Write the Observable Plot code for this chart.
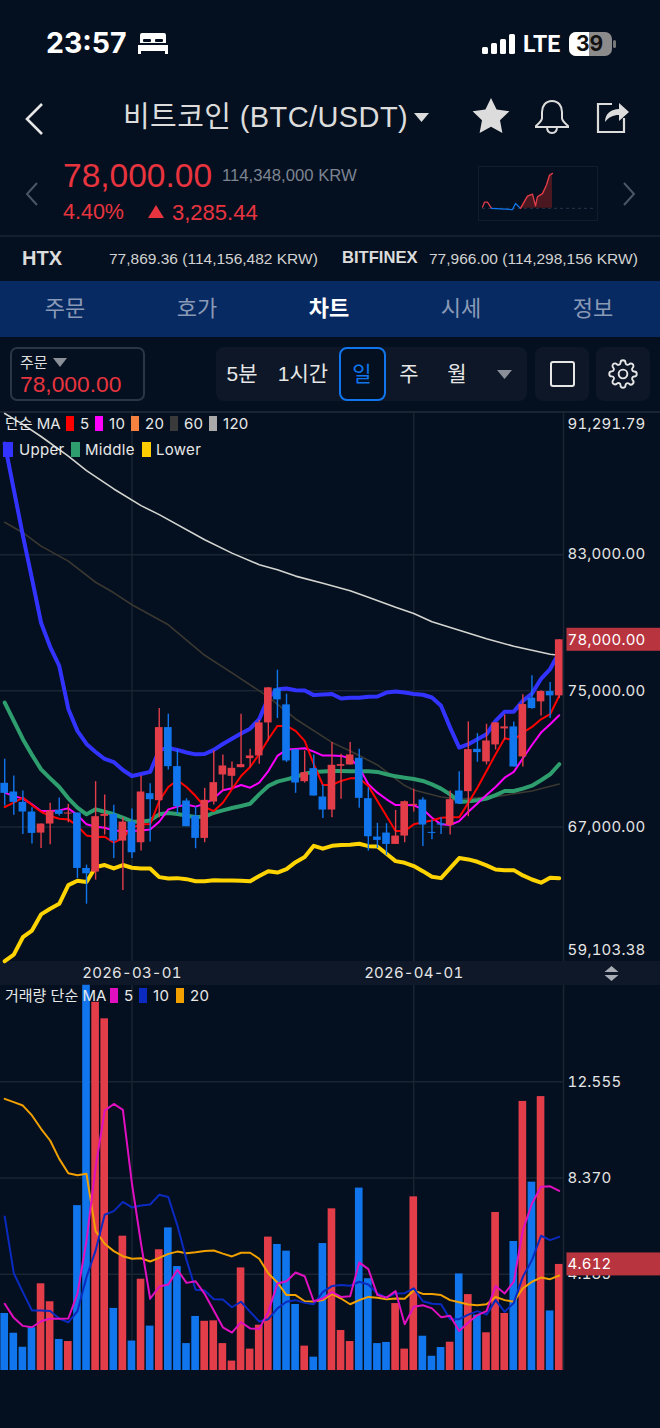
<!DOCTYPE html>
<html lang="ko"><head><meta charset="utf-8">
<script src="https://cdn.jsdelivr.net/npm/d3@7"></script>
<script src="https://cdn.jsdelivr.net/npm/@observablehq/plot@0.6"></script>
<style>
html,body{margin:0;padding:0;background:#04101f;width:660px;height:1428px;overflow:hidden}
#page{position:relative;width:660px;height:1428px;font-family:"Liberation Sans","Noto Sans CJK KR",sans-serif;color:#e6e6e6}
.a{position:absolute;white-space:nowrap;line-height:1}
.c{transform:translateX(-50%)}
.r{font-family:Inter,"Noto Sans CJK KR",sans-serif}
.s{position:absolute}
.lg{position:absolute;white-space:nowrap;line-height:1;font-family:Inter,"Noto Sans CJK KR",sans-serif;font-size:15px;letter-spacing:.3px;color:#e8e8e8}
.plot{position:absolute;left:0}
svg{background:transparent}
</style></head><body><div id="page">

<!-- status bar -->
<div class="a r" style="left:46px;top:29px;font-size:28.500px;font-weight:700;color:#fff">23:57</div>
<svg class="s" style="left:138px;top:33px" width="30" height="21" viewBox="0 0 30 21"><path d="M4 0h22a2 2 0 0 1 2 2v8H2V2a2 2 0 0 1 2-2zM0 12h30v9h-3v-3H3v3H0z" fill="#fff"/><rect x="5" y="6" width="8" height="3" rx="1" fill="#04101f"/><rect x="17" y="6" width="8" height="3" rx="1" fill="#04101f"/></svg>
<svg class="s" style="left:482px;top:34px" width="34" height="20" viewBox="0 0 34 20"><rect x="0" y="13" width="6" height="7" rx="1.5" fill="#fff"/><rect x="9" y="9" width="6" height="11" rx="1.5" fill="#fff"/><rect x="18" y="5" width="6" height="15" rx="1.5" fill="#fff"/><rect x="27" y="0" width="6" height="20" rx="1.5" fill="#fff"/></svg>
<div class="a" style="left:523px;top:33px;font-family:Roboto;font-size:23px;font-weight:700;color:#fff">LTE</div>
<svg class="s" style="left:569px;top:32px" width="47" height="24" viewBox="0 0 47 24"><rect width="43" height="24" rx="7" fill="#8b8b8b"/><path d="M7 0h13v24H7a7 7 0 0 1-7-7V7a7 7 0 0 1 7-7z" fill="#fff"/><rect x="44" y="8" width="3" height="8" rx="1.5" fill="#777"/></svg>
<div class="a r" style="left:576px;top:33px;font-size:21px;font-weight:700;color:#111">39</div>

<!-- title row -->
<svg class="s" style="left:24px;top:102px" width="20" height="34" viewBox="0 0 20 34"><path d="M18 2 3 17l15 15" fill="none" stroke="#e6e6e6" stroke-width="2.600"/></svg>
<div class="a" style="left:123px;top:103px;font-size:29px;letter-spacing:.4px;color:#dcdcdc">비트코인 (BTC/USDT)</div>
<svg class="s" style="left:414px;top:113px" width="15" height="9"><path d="M0 0h15L7.500 9z" fill="#dcdcdc"/></svg>
<svg class="s" style="left:472px;top:98px" width="38" height="36" viewBox="0 0 38 36"><path d="M19 0l5.600 11.600 12.800 1.700-9.400 8.900 2.400 12.700L19 28.700l-11.400 6.200 2.400-12.700L.6 13.300l12.800-1.700z" fill="#dcdcdc"/></svg>
<svg class="s" style="left:534px;top:99px" width="36" height="36" viewBox="0 0 36 36"><path d="M18 2c-6.500 0-10 5-10 11v6c0 3-3 5-6 8v1h32v-1c-3-3-6-5-6-8v-6c0-6-3.500-11-10-11zM13 28c0 4 2 6 5 6s5-2 5-6" fill="none" stroke="#dcdcdc" stroke-width="2"/></svg>
<svg class="s" style="left:596px;top:98px" width="35" height="36" viewBox="0 0 35 36"><path d="M16 6H2v28h26V20" fill="none" stroke="#dcdcdc" stroke-width="2.200"/><path d="M9 24c0-8 6-13 14-13V5l10 9-10 9v-6c-6 0-10 2-14 7z" fill="#dcdcdc"/></svg>

<!-- price row -->
<svg class="s" style="left:25px;top:182px" width="14" height="24" viewBox="0 0 14 24"><path d="M12 1 2 12l10 11" fill="none" stroke="#4a5565" stroke-width="2"/></svg>
<svg class="s" style="left:622px;top:182px" width="14" height="24" viewBox="0 0 14 24"><path d="M2 1l10 11L2 23" fill="none" stroke="#4a5565" stroke-width="2"/></svg>
<div class="a" style="left:63px;top:159px;font-size:33.500px;color:#e8343f">78,000.00</div>
<div class="a" style="left:222px;top:168px;font-size:16.700px;color:#7d8492">114,348,000 KRW</div>
<div class="a" style="left:63px;top:202px;font-size:21.500px;color:#e8343f">4.40%</div>
<svg class="s" style="left:148px;top:205px" width="16" height="13"><path d="M8 0l8 13H0z" fill="#e8343f"/></svg>
<div class="a" style="left:172px;top:202px;font-size:22px;color:#e8343f">3,285.44</div>
<div class="s" id="spark" style="left:478px;top:166px;width:120px;height:55px;border:1px solid #111c2d;box-sizing:border-box"></div>
<div class="s" style="left:0;top:235px;width:660px;height:2px;background:#131e30"></div>

<!-- exchange row -->
<div class="a" style="left:22px;top:248px;font-size:20px;font-weight:700;color:#dcdcdc">HTX</div>
<div class="a" style="left:109px;top:251px;font-size:15.500px;color:#d2d2d2">77,869.36 (114,156,482 KRW)</div>
<div class="a" style="left:342px;top:250px;font-size:16.600px;font-weight:700;color:#dcdcdc">BITFINEX</div>
<div class="a" style="left:429px;top:251px;font-size:15.500px;color:#d2d2d2">77,966.00 (114,298,156 KRW)</div>

<!-- tabs -->
<div class="s" style="left:0;top:281px;width:660px;height:56px;background:#072a62"></div>
<div class="a c" style="left:65px;top:298px;font-size:22px;color:#8a9ab6">주문</div>
<div class="a c" style="left:197px;top:298px;font-size:22px;color:#8a9ab6">호가</div>
<div class="a c" style="left:329px;top:298px;font-size:22px;font-weight:700;color:#fff">차트</div>
<div class="a c" style="left:461px;top:298px;font-size:22px;color:#8a9ab6">시세</div>
<div class="a c" style="left:593px;top:298px;font-size:22px;color:#8a9ab6">정보</div>

<!-- toolbar -->
<div class="s" style="left:10px;top:347px;width:135px;height:54px;box-sizing:border-box;border:2px solid #2a3545;border-radius:7px"></div>
<div class="a" style="left:20px;top:355px;font-size:15px;color:#dcdcdc">주문</div>
<svg class="s" style="left:53px;top:358px" width="14" height="9"><path d="M0 0h14L7 9z" fill="#8a8f98"/></svg>
<div class="a" style="left:20px;top:373px;font-size:22.800px;color:#e8343f">78,000.00</div>
<div class="s" style="left:216px;top:347px;width:311px;height:54px;background:#0d1727;border-radius:8px"></div>
<div class="s" style="left:535px;top:347px;width:54px;height:54px;background:#0d1727;border-radius:8px"></div>
<div class="s" style="left:596px;top:347px;width:54px;height:54px;background:#0d1727;border-radius:8px"></div>
<div class="s" style="left:339px;top:347px;width:47px;height:54px;box-sizing:border-box;border:2px solid #1176ee;border-radius:8px;background:#04101f"></div>
<div class="a c" style="left:242px;top:363px;font-size:21px;color:#e6e6e6">5분</div>
<div class="a c" style="left:303px;top:363px;font-size:21px;color:#e6e6e6">1시간</div>
<div class="a c" style="left:362px;top:363px;font-size:21px;color:#1176ee">일</div>
<div class="a c" style="left:409px;top:363px;font-size:21px;color:#e6e6e6">주</div>
<div class="a c" style="left:457px;top:363px;font-size:21px;color:#e6e6e6">월</div>
<svg class="s" style="left:497px;top:370px" width="15" height="9"><path d="M0 0h15L7.500 9z" fill="#8a8f98"/></svg>
<svg class="s" style="left:550px;top:361px" width="25" height="26"><rect x="1" y="1" width="23" height="24" rx="2" fill="none" stroke="#e6e6e6" stroke-width="2"/></svg>
<svg class="s" style="left:608px;top:359px" width="30" height="30" viewBox="0 0 24 24"><path d="M12 15.500a3.500 3.500 0 1 0 0-7 3.500 3.500 0 0 0 0 7zM19.400 15a1.700 1.700 0 0 0 .3 1.800l.1.100a2 2 0 1 1-2.900 2.900l-.1-.1a1.700 1.700 0 0 0-2.800 1.200V21a2 2 0 1 1-4 0v-.1a1.700 1.700 0 0 0-2.900-1.200l-.1.100a2 2 0 1 1-2.800-2.900l.1-.1a1.700 1.700 0 0 0-1.200-2.900H3a2 2 0 1 1 0-4h.1a1.700 1.700 0 0 0 1.200-2.800l-.1-.1a2 2 0 1 1 2.800-2.900l.1.100a1.700 1.700 0 0 0 1.900.3 1.700 1.700 0 0 0 1-1.500V3a2 2 0 1 1 4 0v.1a1.700 1.700 0 0 0 2.800 1.200l.1-.1a2 2 0 1 1 2.900 2.800l-.1.100a1.700 1.700 0 0 0 1.200 2.900h.1a2 2 0 1 1 0 4h-.1a1.700 1.700 0 0 0-1.500 1z" fill="none" stroke="#e6e6e6" stroke-width="1.500"/></svg>

<div class="s" style="left:0;top:411px;width:660px;height:1.500px;background:#1a2433"></div>
<div class="s" style="left:0;top:961px;width:660px;height:24px;background:#0e1829"></div>

<div class="plot" id="price" style="top:413px"></div>
<div class="plot" id="volume" style="top:985px"></div>

<svg class="s" style="left:604px;top:966px" width="15" height="15"><path d="M7.500 0l7 6H.5z" fill="#a9adb5"/><path d="M7.500 15l7-6H.5z" fill="#a9adb5"/></svg>

<!-- legends -->
<div class="lg" style="left:5px;top:416px;letter-spacing:0">단순 MA</div>
<div class="s" style="left:66px;top:416px;width:8px;height:15px;background:#ff0000"></div><div class="lg" style="left:80px;top:416px">5</div>
<div class="s" style="left:95px;top:416px;width:8px;height:15px;background:#ff00ff"></div><div class="lg" style="left:109px;top:416px">10</div>
<div class="s" style="left:131px;top:416px;width:8px;height:15px;background:#f5833f"></div><div class="lg" style="left:145px;top:416px">20</div>
<div class="s" style="left:170px;top:416px;width:8px;height:15px;background:#3a3a3a"></div><div class="lg" style="left:184px;top:416px">60</div>
<div class="s" style="left:209px;top:416px;width:8px;height:15px;background:#aaaaaa"></div><div class="lg" style="left:223px;top:416px">120</div>
<div class="s" style="left:3px;top:442px;width:10px;height:15px;background:#3333ff"></div><div class="lg" style="left:19px;top:442px">Upper</div>
<div class="s" style="left:71px;top:442px;width:9px;height:15px;background:#2f9e6e"></div><div class="lg" style="left:85px;top:442px">Middle</div>
<div class="s" style="left:142px;top:442px;width:9px;height:15px;background:#ffcc00"></div><div class="lg" style="left:156px;top:442px">Lower</div>

<div class="lg" style="left:5px;top:988px;letter-spacing:0">거래량 단순 MA</div>
<div class="s" style="left:110px;top:988px;width:8px;height:15px;background:#e010c0"></div><div class="lg" style="left:124px;top:988px">5</div>
<div class="s" style="left:139px;top:988px;width:8px;height:15px;background:#0a2ac0"></div><div class="lg" style="left:153px;top:988px">10</div>
<div class="s" style="left:176px;top:988px;width:8px;height:15px;background:#f2a000"></div><div class="lg" style="left:190px;top:988px">20</div>
</div>

<script>
// ---- candles (i = days since start, 2026-02-15) ----
const startDate = "2026-02-15";
const openPrice = [69569,69059,68451,67883,66647,67177,67981,67765,67824,64569,64353,67628,67745,66177,67294,66079,68961,68549,72843,70549,68530,67647,66334,68471,70059,69981,70490,71020,71177,73118,75118,74177,71530,69667,70432,68765,68000,70569,70647,71040,68667,66412,66647,65981,66471,68275,68588,66686,67196,67098,69118,69079,71569,70824,71824,72765,72883,71118,74569,74353,74961,74706];
const highPrice = [70981,70000,69118,68138,67177,68392,68706,68334,67824,64765,69667,68883,68275,67549,68059,70000,69549,73961,73628,71530,68667,68196,69275,71471,71236,70824,73628,71569,73275,75196,76216,74804,71530,71471,71236,69471,71961,71275,71961,71569,69314,67216,67196,67981,68530,69216,68725,67393,67549,69118,70255,73177,72490,73040,73118,73588,73177,74765,75883,75000,75490,78000];
const lowPrice = [68236,67687,66569,66000,65745,65961,67647,67255,63981,62471,63883,66530,65157,63275,65157,65588,66118,67549,70353,67745,67020,65726,66079,68294,69118,69275,70490,70490,70687,72059,73373,70785,68981,69588,68824,67510,67549,68628,70647,68098,65588,65745,65334,65981,66079,67883,65863,66255,66569,66530,68334,67608,70804,70647,71530,72098,70530,70530,73922,73530,73373,74550];
const closePrice = [68981,68451,67883,66628,67177,67941,67745,67824,64569,64255,67608,67745,66177,67294,65490,69059,68608,72843,70549,68196,67020,66334,68569,69608,70588,70451,70667,71177,73118,75177,74471,70883,69588,70196,68824,68000,70628,70667,71236,68687,66432,66216,65981,66471,68490,68334,67118,66628,67118,68608,68353,71549,71373,72059,73118,72883,70530,74196,73961,74961,74706,78000];
// ---- Bollinger ----
const bbUpper = [89530,86820,84120,81590,79000,77590,76470,73940,72650,71880,71410,71000,70820,70350,70000,70120,70240,71530,71650,71530,71380,71270,71290,71530,71880,72190,72490,72780,73340,74590,75100,75140,75040,75020,74750,74780,74820,74550,74590,74590,74650,74670,74900,74960,74900,74820,74770,74610,74120,72840,71670,71870,72160,72450,73240,73780,73780,74410,74840,75710,76280,77250];
const bbMiddle = [74310,73240,72160,71240,70390,69860,69350,68690,68140,67750,68040,67900,67750,67550,67330,67310,67390,67750,67820,67770,67670,67590,67610,67840,67980,68120,68240,68370,68920,69410,69670,69800,69940,70140,70240,70260,70290,70290,70280,70280,70280,70240,70100,69980,69900,69820,69710,69510,69260,68920,68470,68510,68570,68670,68880,69120,69120,69260,69430,69750,70100,70690];
const bbLower = [59120,59510,60530,60920,61870,62200,62490,63590,63850,63770,64650,64770,64570,64770,64610,64570,64570,64060,63980,64000,63940,63820,63820,63880,63860,63860,63840,63820,64120,64410,64330,64530,64940,65240,65900,65730,65900,65940,65960,66020,65880,65860,65430,65000,64900,64710,64410,64080,64000,64590,65180,65100,64960,64750,64510,64470,64470,64160,63920,63730,64020,64000];
// ---- price moving averages ----
const ma5 = [68180,68430,68730,68290,67900,67650,67490,67450,67060,66510,66410,66430,66080,66370,66960,67160,67160,68530,69350,69750,69350,68820,68180,67940,68430,69220,70000,70530,71280,72160,72940,72940,72650,72060,70690,69470,69470,69710,69860,69860,69410,68530,67650,66770,66770,67160,67280,67390,67550,67570,67570,68430,69310,70290,71280,72220,72100,72550,72880,73330,73630,74710];
const ma10 = [69020,68820,68670,68330,67940,67940,67980,68100,67710,67160,67020,66960,66800,66770,66770,66800,66860,67310,68040,68200,68330,68200,68370,68690,69160,69280,69470,69310,69610,70290,71180,71550,71590,71630,71430,71200,71200,71180,71040,70490,69510,69020,68630,68290,68290,68280,68040,67550,67160,67120,67350,67900,68390,68880,69350,69900,70240,71040,71820,72550,73040,73570];
const ma60Day = [0,2,4,7,10,12,14,18,22,25,29,32,36,38,41,44,45,48,50,54,58,61];
const ma60 = [84900,84290,83500,82620,81380,80760,80060,78880,77090,76060,74650,73350,71970,71470,70650,69440,69180,68770,68650,68790,69120,69530];
const ma120Day = [0,2,4,7,9,12,15,17,22,25,28,30,32,35,38,40,43,45,47,50,53,56,60,61];
const ma120 = [91290,90650,89940,88790,87940,86860,85880,85350,83880,83090,82410,82120,81740,81320,80880,80500,79910,79550,79060,78560,78060,77620,77150,77090];
// ---- price axis ----
const priceDomain = [59103.38,91291.79];
const priceTicks = [83000,75000,67000];
const lastPrice = 78000;
const monthTicks = ["2026-03-01","2026-04-01"];
// ---- volume ----
const volume = [2.48,1.62,1.01,1.86,3.77,2.99,1.35,1.26,7.17,16.75,16.01,15.29,2.70,5.84,1.28,3.97,1.93,5.25,6.20,4.52,1.17,2.35,2.14,2.16,1.17,0.41,4.46,0.93,1.97,5.80,5.48,5.19,2.87,1.06,0.58,5.52,7.03,1.74,1.26,7.93,3.99,1.17,1.22,2.91,0.93,7.55,1.49,0.62,1.00,1.23,4.20,3.30,2.41,1.64,6.87,2.48,5.61,11.70,8.19,11.91,2.59,4.612];
const volMa5 = [2.90,2.29,1.94,1.88,2.14,2.26,2.25,2.26,3.33,5.65,8.84,11.30,11.59,11.33,8.12,5.51,3.12,3.65,3.74,4.38,3.81,3.88,3.33,2.61,1.88,1.65,2.10,1.83,1.81,2.55,3.78,3.88,4.26,4.10,3.01,3.13,3.41,3.20,3.23,4.70,4.41,3.28,3.17,3.45,2.01,2.77,2.84,2.70,2.32,2.38,1.72,2.09,2.41,2.58,3.67,3.35,3.86,6.10,7.26,7.99,8.01,7.81];
const volMa10 = [6.70,4.23,3.41,2.61,2.61,2.59,2.26,2.09,2.58,4.06,5.22,6.77,6.93,7.33,7.09,7.17,7.22,7.64,7.54,6.30,4.81,3.51,3.48,3.10,3.09,2.75,2.99,2.55,2.13,2.23,2.70,2.99,3.06,2.94,2.88,3.42,3.67,3.72,3.68,3.86,3.74,3.35,3.17,3.35,3.36,3.57,3.01,2.90,2.88,2.23,2.23,2.43,2.58,2.43,3.06,2.55,2.94,4.07,4.80,5.86,5.67,5.81];
const volMa20 = [11.81,11.67,11.52,11.09,10.51,10.00,9.20,8.58,8.49,8.55,6.06,5.51,5.19,4.97,4.86,4.88,4.74,4.90,5.07,5.17,5.10,5.14,5.20,5.22,5.08,4.96,5.12,5.12,4.86,4.22,3.83,3.28,3.28,3.01,3.00,3.06,3.33,3.13,2.88,3.06,3.20,3.16,3.10,3.13,3.12,3.48,3.33,3.33,3.28,3.06,2.97,2.87,2.84,2.88,3.20,3.06,2.99,3.57,3.86,4.04,3.97,4.13];
const volDomain = [0,16.74];
const volTicks = [12.555,8.37,4.185];
const lastVolume = 4.612;
// ---- mini chart ----
const sparkDay = [0,2,5,9,30,33,38,45,50,53,55,60,64,67,70];
const sparkValue = [1.2,2.0,2.0,1.0,0.8,1.8,1.0,3.0,3.3,1.4,2.9,3.4,4.8,6.4,6.7];

const RED="#e33d4a", BLUE="#1176ee", GRID="#1a2433", TEXT="#e6e6e6", TAG="#b8343f";
const FONT='Inter,"Noto Sans CJK KR",sans-serif';
const t0 = Date.parse(startDate+"T00:00:00Z");
const at = k => new Date(t0 + k*864e5);
const xDomain = [at(-0.462), at(61.47)];
const rows = openPrice.map((o,i)=>({i,date:at(i),open:o,high:highPrice[i],low:lowPrice[i],close:closePrice[i],vol:volume[i],up:closePrice[i]>=o}));
const ups = rows.filter(d=>d.up), downs = rows.filter(d=>!d.up);
const months = monthTicks.map(s=>new Date(s+"T00:00:00Z"));
const fmt2 = d3.format(",.2f");
const chartStyle = {background:"transparent",fontFamily:FONT,letterSpacing:"0.2px",overflow:"visible",maxWidth:"none"};
const ln = (arr,stroke,strokeWidth)=>Plot.line(arr,{x:(d,i)=>at(i),y:d=>d,stroke,strokeWidth});
const tnum = {fontVariant:"tabular-nums"};

const priceChart = Plot.plot({
  width:660,height:572,marginTop:0,marginBottom:24,marginLeft:0,marginRight:97,
  style:chartStyle,
  x:{type:"utc",domain:xDomain},
  y:{domain:priceDomain},
  marks:[
    Plot.ruleY(priceTicks,{stroke:GRID,strokeWidth:1.5}),
    Plot.ruleX(months,{stroke:GRID,strokeWidth:1.5}),
    Plot.ruleX([xDomain[1]],{stroke:GRID,strokeWidth:1.5}),
    Plot.axisX(months,{anchor:"bottom",tickSize:0,tickPadding:6,tickFormat:d3.utcFormat("%Y-%m-%d"),fontSize:15,label:null,fill:TEXT,...tnum}),
    Plot.axisY(priceTicks,{anchor:"right",tickSize:0,tickPadding:4,tickFormat:fmt2,fontSize:15,label:null,fill:TEXT,...tnum}),
    Plot.text([priceDomain[1]],{x:()=>at(61.92),y:d=>d,dy:11,text:fmt2,textAnchor:"start",fontSize:15,fill:TEXT,...tnum}),
    Plot.text([priceDomain[0]],{x:()=>at(61.92),y:d=>d,dy:-11,text:fmt2,textAnchor:"start",fontSize:15,fill:TEXT,...tnum}),
    Plot.rect([lastPrice],{x1:()=>at(61.85),x2:()=>at(72.2),y1:d=>d-676,y2:d=>d+676,fill:TAG}),
    Plot.text([lastPrice],{x:()=>at(61.92),y:d=>d,text:fmt2,textAnchor:"start",fontSize:15,fill:"#fff",...tnum}),
    Plot.line(ma120Day,{x:d=>at(d),y:(d,k)=>ma120[k],stroke:"#d4d4d0",strokeWidth:1.6}),
    Plot.line(ma60Day,{x:d=>at(d),y:(d,k)=>ma60[k],stroke:"#3b3731",strokeWidth:1.6}),
    ln(bbMiddle,"#2f9e6e",4),
    ln(bbLower,"#ffd400",4),
    ln(bbUpper,"#3333ff",4),
    ln(ma10,"#ff00ff",2),
    ln(ma5,"#ff0000",2),
    ...[[downs,BLUE],[ups,RED]].flatMap(([data,color])=>[
      Plot.ruleX(data,{x:"date",y1:"low",y2:"high",stroke:color,strokeWidth:1.4}),
      Plot.rect(data,{x1:d=>at(d.i-0.42),x2:d=>at(d.i+0.42),y1:"open",y2:"close",fill:color})
    ])
  ]
});
document.getElementById("price").append(priceChart);

const volumeChart = Plot.plot({
  width:660,height:386,marginTop:0,marginBottom:1,marginLeft:0,marginRight:97,
  style:chartStyle,
  x:{type:"utc",domain:xDomain,axis:null},
  y:{domain:volDomain},
  marks:[
    Plot.ruleY(volTicks,{stroke:GRID,strokeWidth:1.5}),
    Plot.ruleX(months,{stroke:GRID,strokeWidth:1.5}),
    Plot.ruleX([xDomain[1]],{stroke:GRID,strokeWidth:1.5}),
    Plot.axisY(volTicks,{anchor:"right",tickSize:0,tickPadding:4,tickFormat:d3.format(".3f"),fontSize:15,label:null,fill:TEXT,...tnum}),
    Plot.rect([lastVolume],{x1:()=>at(61.85),x2:()=>at(72.2),y1:d=>d-0.5,y2:d=>d+0.5,fill:TAG}),
    Plot.text([lastVolume],{x:()=>at(61.92),y:d=>d,text:d3.format(".3f"),textAnchor:"start",fontSize:15,fill:"#fff",...tnum}),
    ...[[downs,BLUE],[ups,RED]].map(([data,color])=>
      Plot.rect(data,{x1:d=>at(d.i-0.42),x2:d=>at(d.i+0.42),y1:0,y2:"vol",fill:color})),
    ln(volMa20,"#f2a000",2),
    ln(volMa10,"#0a2ac0",2),
    ln(volMa5,"#e010c0",2)
  ]
});
document.getElementById("volume").append(volumeChart);

// mini chart
const sparkRedA=[0,1,2,3], sparkRedB=[6,7,8,9,10,11,12,13,14];
const sparkPt = i=>({x:sparkDay[i],y:sparkValue[i]});
const sparkChart = Plot.plot({
  width:118,height:53,marginTop:4,marginBottom:6,marginLeft:3,marginRight:3,
  style:{background:"transparent",overflow:"visible",maxWidth:"none"},
  x:{axis:null,domain:[0,112]},y:{axis:null,domain:[0,7]},
  marks:[
    Plot.ruleY([1],{stroke:"#27324a",strokeDasharray:"3,3"}),
    Plot.areaY(sparkRedB.map(sparkPt),{x:"x",y1:1,y2:"y",fill:"#5e1a22",fillOpacity:.8}),
    Plot.line(sparkRedA.map(sparkPt),{x:"x",y:"y",stroke:RED,strokeWidth:1.3}),
    Plot.line([3,4,5,6].map(sparkPt),{x:"x",y:"y",stroke:BLUE,strokeWidth:1.3}),
    Plot.line(sparkRedB.map(sparkPt),{x:"x",y:"y",stroke:RED,strokeWidth:1.3})
  ]
});
document.getElementById("spark").append(sparkChart);
</script>
</body></html>
